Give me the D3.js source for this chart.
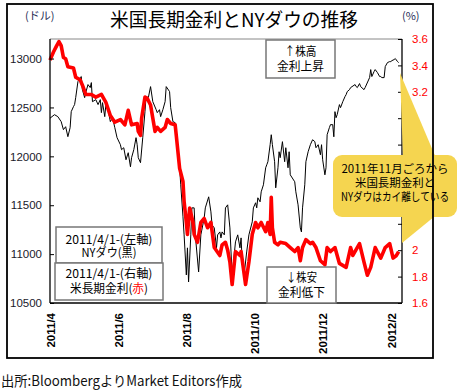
<!DOCTYPE html>
<html><head><meta charset="utf-8">
<script src="https://cdn.jsdelivr.net/npm/d3@7"></script>
<style>
html,body{margin:0;padding:0;background:#fff;}
svg{display:block;}
text{font-family:"Noto Sans CJK JP","Noto Sans",sans-serif;}
.num{font-family:"Liberation Sans",Arial,sans-serif;}
</style></head>
<body>
<svg id="c" width="461" height="392"></svg>
<script>
// ---------- data ----------
const dowDates = ["2011-04-01","2011-04-05","2011-04-08","2011-04-11","2011-04-13","2011-04-15","2011-04-17","2011-04-19","2011-04-20","2011-04-22","2011-04-23","2011-04-24","2011-04-26","2011-04-28","2011-04-29","2011-04-30","2011-05-02","2011-05-03","2011-05-05","2011-05-07","2011-05-08","2011-05-09","2011-05-12","2011-05-14","2011-05-16","2011-05-17","2011-05-18","2011-05-20","2011-05-21","2011-05-23","2011-05-25","2011-05-27","2011-05-29","2011-05-31","2011-06-03","2011-06-04","2011-06-06","2011-06-08","2011-06-10","2011-06-12","2011-06-13","2011-06-15","2011-06-17","2011-06-18","2011-06-19","2011-06-21","2011-06-23","2011-06-25","2011-06-26","2011-06-28","2011-06-30","2011-07-02","2011-07-05","2011-07-06","2011-07-08","2011-07-09","2011-07-11","2011-07-13","2011-07-14","2011-07-17","2011-07-18","2011-07-20","2011-07-22","2011-07-23","2011-07-26","2011-07-27","2011-07-29","2011-07-30","2011-08-01","2011-08-02","2011-08-03","2011-08-05","2011-08-06","2011-08-08","2011-08-09","2011-08-12","2011-08-14","2011-08-17","2011-08-18","2011-08-21","2011-08-23","2011-08-24","2011-08-26","2011-08-28","2011-08-29","2011-08-31","2011-09-01","2011-09-02","2011-09-04","2011-09-05","2011-09-07","2011-09-09","2011-09-10","2011-09-11","2011-09-14","2011-09-16","2011-09-18","2011-09-19","2011-09-20","2011-09-22","2011-09-24","2011-09-26","2011-09-29","2011-09-30","2011-10-02","2011-10-03","2011-10-04","2011-10-06","2011-10-07","2011-10-09","2011-10-11","2011-10-12","2011-10-13","2011-10-15","2011-10-16","2011-10-17","2011-10-19","2011-10-20","2011-10-22","2011-10-23","2011-10-24","2011-10-26","2011-10-28","2011-10-29","2011-10-31","2011-11-01","2011-11-02","2011-11-06","2011-11-07","2011-11-09","2011-11-11","2011-11-12","2011-11-13","2011-11-15","2011-11-16","2011-11-18","2011-11-20","2011-11-22","2011-11-24","2011-11-25","2011-11-27","2011-11-29","2011-11-30","2011-12-01","2011-12-03","2011-12-04","2011-12-05","2011-12-07","2011-12-08","2011-12-10","2011-12-11","2011-12-12","2011-12-13","2011-12-14","2011-12-16","2011-12-17","2011-12-19","2011-12-21","2011-12-22","2011-12-23","2011-12-25","2011-12-26","2011-12-30","2011-12-31","2012-01-01","2012-01-03","2012-01-04","2012-01-07","2012-01-08","2012-01-12","2012-01-13","2012-01-14","2012-01-16","2012-01-17","2012-01-19","2012-01-21","2012-01-22","2012-01-23","2012-01-25","2012-01-26","2012-01-28","2012-01-30","2012-01-31","2012-02-01","2012-02-03","2012-02-04","2012-02-06","2012-02-07"];
const dowValues = [12390,12426,12406,12355,12273,12303,12201,12293,12457,12508,12529,12600,12764,12805,12816,12682,12600,12652,12734,12703,12754,12559,12580,12529,12580,12447,12549,12406,12529,12477,12355,12395,12293,12191,12119,12068,12088,11965,12037,11893,11986,12068,12191,12119,11986,11935,12191,12457,12611,12600,12713,12559,12477,12447,12477,12406,12477,12559,12713,12662,12498,12355,12344,12221,11883,11709,11381,11197,10787,11064,10715,11197,11473,11473,11197,10818,11197,11371,11473,11586,11432,11299,11268,11064,11197,11227,11166,11227,11197,11473,11504,11268,11022,10787,11125,11197,11064,11166,10920,10818,11022,11197,11330,11473,11525,11473,11576,11535,11637,11709,11883,11914,11945,12119,12221,12119,11945,11678,11883,12047,11986,12150,11945,12088,11883,12047,11811,11740,11637,11504,11268,11227,11473,11709,11945,12047,12119,12170,12150,12088,12119,12016,12119,11965,11811,11883,12221,12293,12324,12324,12200,12457,12395,12426,12529,12498,12559,12611,12631,12662,12682,12703,12734,12713,12703,12744,12713,12682,12703,12805,12887,12816,12867,12887,12857,12816,12816,12805,12805,12918,12959,12969,12969,12979,12990,13000,12969,12959];

const rateDates = ["2011-04-01","2011-04-04","2011-04-07","2011-04-09","2011-04-11","2011-04-13","2011-04-15","2011-04-17","2011-04-22","2011-04-24","2011-04-28","2011-04-30","2011-05-03","2011-05-08","2011-05-12","2011-05-17","2011-05-21","2011-05-25","2011-05-29","2011-06-03","2011-06-07","2011-06-10","2011-06-13","2011-06-18","2011-06-19","2011-06-21","2011-06-22","2011-06-25","2011-06-27","2011-06-30","2011-07-04","2011-07-06","2011-07-09","2011-07-13","2011-07-15","2011-07-18","2011-07-22","2011-07-23","2011-07-26","2011-07-29","2011-07-30","2011-08-01","2011-08-02","2011-08-04","2011-08-07","2011-08-08","2011-08-11","2011-08-14","2011-08-17","2011-08-20","2011-08-23","2011-08-26","2011-08-31","2011-09-02","2011-09-05","2011-09-07","2011-09-09","2011-09-11","2011-09-14","2011-09-18","2011-09-19","2011-09-23","2011-09-26","2011-09-29","2011-10-02","2011-10-04","2011-10-07","2011-10-11","2011-10-13","2011-10-15","2011-10-16","2011-10-17","2011-10-19","2011-10-22","2011-10-24","2011-10-29","2011-11-02","2011-11-06","2011-11-09","2011-11-11","2011-11-13","2011-11-16","2011-11-20","2011-11-22","2011-11-25","2011-11-29","2011-12-03","2011-12-05","2011-12-08","2011-12-12","2011-12-16","2011-12-22","2011-12-26","2011-12-28","2012-01-03","2012-01-07","2012-01-10","2012-01-13","2012-01-17","2012-01-22","2012-01-26","2012-01-30","2012-02-02","2012-02-05","2012-02-07"];
const rateValues = [3.44,3.50,3.55,3.58,3.55,3.46,3.45,3.39,3.38,3.31,3.29,3.25,3.18,3.18,3.16,3.18,3.12,3.02,2.97,2.99,2.95,3.06,2.95,2.96,2.90,2.87,3.00,3.16,3.15,3.10,2.90,2.93,2.90,2.93,2.99,2.96,2.95,2.87,2.62,2.52,2.37,2.21,2.12,2.32,2.21,2.12,2.06,2.21,2.24,2.17,2.21,2.02,1.96,2.04,2.06,2.00,1.91,1.74,1.99,1.96,1.99,1.74,1.91,2.12,2.21,2.17,2.21,2.14,2.21,2.12,2.40,2.17,2.06,2.04,2.06,2.05,2.02,1.99,2.02,1.92,2.02,2.08,2.05,2.06,2.02,1.92,1.89,2.02,1.99,2.02,1.90,1.87,2.02,1.96,2.05,1.91,1.81,1.87,2.02,1.94,2.02,2.05,1.94,1.96,1.99];

const leftTicks = [10500,11000,11500,12000,12500,13000];
const rightTicks = [1.6,1.8,2.0,2.2,2.4,2.6,2.8,3.0,3.2,3.4,3.6];
const rightLabelled = [1.6,1.8,2.0,3.2,3.4,3.6];   // others are hidden behind the callout
const monthTicks = ["2011-04-01","2011-06-01","2011-08-01","2011-10-01","2011-12-01","2012-02-01"];

// ---------- drawing ----------
const svg = d3.select("#c");
const parse = d3.timeParse("%Y-%m-%d");
const L = 50, R = 402, T = 39, B = 303;

const x = d3.scaleTime().domain([parse("2011-04-01"), parse("2012-02-10")]).range([L, R]);
const yL = d3.scaleLinear().domain([10500, 13200]).range([B, T]);
const yR = d3.scaleLinear().domain([1.6, 3.6]).range([B, T]);

svg.append("rect").attr("width",461).attr("height",392).attr("fill","#fff");

// title
svg.append("text").attr("x",234).attr("y",27).attr("text-anchor","middle")
  .attr("font-size",19).attr("fill","#000").attr("textLength",248).attr("lengthAdjust","spacingAndGlyphs")
  .text("米国長期金利とNYダウの推移");
svg.append("text").attr("x",25).attr("y",20).attr("font-size",11).attr("fill","#1f2d55").text("(ドル)");
svg.append("text").attr("x",402).attr("y",20).attr("font-size",11).attr("fill","#1f2d55").text("(%)");

// plot top border (gray)
svg.append("line").attr("x1",L).attr("x2",R).attr("y1",T).attr("y2",T).attr("stroke","#888").attr("stroke-width",1);

// lines
const dow = dowDates.map((d,i)=>({d:parse(d), v:dowValues[i]}));
const rate = rateDates.map((d,i)=>({d:parse(d), v:rateValues[i]}));

svg.append("path").datum(dow)
  .attr("d", d3.line().x(p=>x(p.d)).y(p=>yL(p.v)))
  .attr("fill","none").attr("stroke","#000").attr("stroke-width",1);
svg.append("path").datum(rate)
  .attr("d", d3.line().x(p=>x(p.d)).y(p=>yR(p.v)))
  .attr("fill","none").attr("stroke","#ff0000").attr("stroke-width",3.6).attr("stroke-linejoin","round");

// axes
const gl = svg.append("g").attr("transform",`translate(${L},0)`)
  .call(d3.axisLeft(yL).tickValues(leftTicks).tickFormat(d3.format("d")).tickSizeInner(-4).tickSizeOuter(0).tickPadding(8));
gl.select(".domain").attr("stroke","#000").attr("stroke-width",1.3).attr("d",`M0,${T}V${B}`);
gl.selectAll("text").attr("class","num").attr("font-size",11.5).attr("fill","#1a1a2a");

const gr = svg.append("g").attr("transform",`translate(${R},0)`)
  .call(d3.axisRight(yR).tickValues(rightTicks)
    .tickFormat(d=>rightLabelled.some(v=>Math.abs(v-d)<1e-9) ? String(+d.toFixed(1)) : "")
    .tickSizeInner(-4).tickSizeOuter(0).tickPadding(10));
gr.select(".domain").attr("stroke","#000").attr("stroke-width",1.3).attr("d",`M0,${T}V${B}`);
gr.selectAll("text").attr("class","num").attr("font-size",11.5).attr("fill","#ff0000");
gr.selectAll("text").filter(function(){return this.textContent==="";}).remove();

const gb = svg.append("g").attr("transform",`translate(0,${B})`)
  .call(d3.axisBottom(x).tickValues(monthTicks.map(parse)).tickFormat(d3.timeFormat("%Y/%-m")).tickSize(0));
gb.select(".domain").attr("stroke","#000").attr("stroke-width",1.3).attr("d",`M${L},0H${R}`);
gb.selectAll("text").attr("class","num").attr("font-size",11.5).attr("font-weight","bold").attr("fill","#000")
  .attr("transform","rotate(-90)").attr("text-anchor","end").attr("x",-10).attr("y",0).attr("dy","0.35em");

// annotation boxes
function box(x0,y0,w,h,lines){
  svg.append("rect").attr("x",x0).attr("y",y0).attr("width",w).attr("height",h)
    .attr("fill","#fff").attr("stroke","#777").attr("stroke-width",1.5);
  lines.forEach(([segs,yy,len])=>{
    const t = svg.append("text").attr("x",x0+w/2).attr("y",yy).attr("text-anchor","middle")
      .attr("font-size",12).attr("fill","#000").attr("textLength",len).attr("lengthAdjust","spacingAndGlyphs");
    segs.forEach(seg=>t.append("tspan").attr("fill",seg[1]||"#000").text(seg[0]));
  });
}
box(266,40,69,38,[[[["↑株高"]],56,32],[[["金利上昇"]],71,47]]);
box(267,267,69,36,[[[["↓株安"]],282,31],[[["金利低下"]],297,47]]);
box(56,227,106,36,[[[["2011/4/1-(左軸)"]],244,87],[[["NYダウ(黒)"]],257,55]]);
box(55,263,108,37,[[[["2011/4/1-(右軸)"]],278,87],[[["米長期金利("],["赤","#ff0000"],[")"]],293,78]]);

// callout
const yellow = "#f5d550";
svg.append("path").attr("d","M400,73 L403,158 L436,158 Z").attr("fill",yellow);
svg.append("path").attr("d","M402,243 L402,212 L440,212 Z").attr("fill",yellow);
svg.append("rect").attr("x",333).attr("y",155).attr("width",124).attr("height",62).attr("rx",9)
  .attr("fill",yellow);
[["2011年11月ごろから",173,107],["米国長期金利と",187,80],["NYダウはカイ離している",201,108]].forEach(([s,yy,len])=>{
  svg.append("text").attr("x",395).attr("y",yy).attr("text-anchor","middle").attr("font-size",11.5)
    .attr("fill","#000").attr("textLength",len).attr("lengthAdjust","spacingAndGlyphs").text(s);
});

// outer frame
svg.append("rect").attr("x",7).attr("y",4).attr("width",426).attr("height",354)
  .attr("fill","none").attr("stroke","#000").attr("stroke-width",1.8);

// footer
svg.append("text").attr("x",1).attr("y",386).attr("font-size",14).attr("fill","#111")
  .attr("textLength",241).attr("lengthAdjust","spacingAndGlyphs").text("出所:BloombergよりMarket Editors作成");
</script>
</body></html>
